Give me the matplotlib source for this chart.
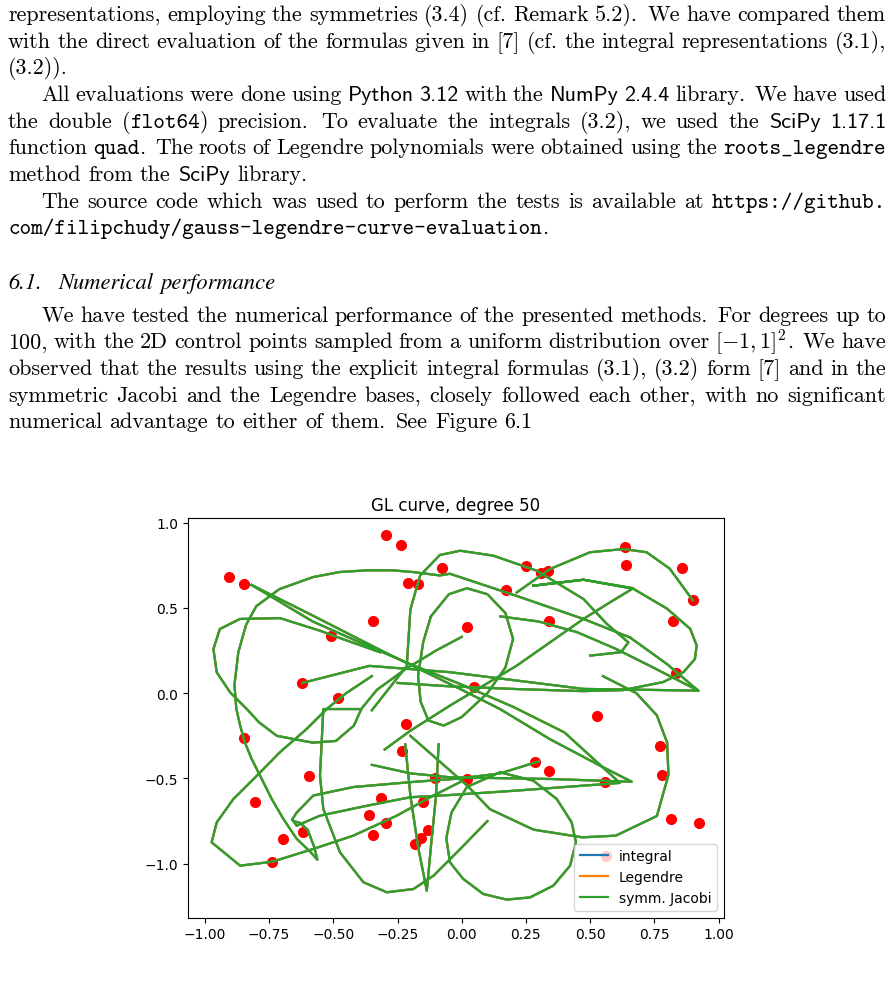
import numpy as np
import matplotlib
matplotlib.use("Agg")
import matplotlib.pyplot as plt
from matplotlib.transforms import IdentityTransform

# ------------------------------------------------------------------ data
chart_title = "GL curve, degree 50"
series_labels = ["integral", "Legendre", "symm. Jacobi"]
series_colors = ["#1f77b4", "#ff7f0e", "#2ca02c"]
xtick_values = [-1.00, -0.75, -0.50, -0.25, 0.00, 0.25, 0.50, 0.75, 1.00]
ytick_values = [-1.0, -0.5, 0.0, 0.5, 1.0]

control_x = [-0.906, -0.847, -0.295, -0.238, -0.077, -0.208, -0.170, -0.347, -0.510,
             -0.621, -0.481, 0.635, 0.640, 0.858, 0.900, 0.824, 0.252, 0.309, 0.336,
             0.171, 0.341, 0.022, 0.834, 0.048, 0.528, -0.848, -0.217, -0.234, -0.595,
             -0.103, -0.805, -0.314, -0.152, -0.360, -0.296, -0.347, -0.132, -0.160,
             -0.181, -0.696, -0.617, -0.738, 0.772, 0.285, 0.339, 0.781, 0.022, 0.558,
             0.814, 0.925, 0.562]
control_y = [0.683, 0.638, 0.926, 0.869, 0.734, 0.644, 0.638, 0.423, 0.335, 0.060,
             -0.026, 0.857, 0.753, 0.734, 0.544, 0.423, 0.747, 0.703, 0.718, 0.605,
             0.421, 0.390, 0.118, 0.035, -0.132, -0.263, -0.179, -0.339, -0.485,
             -0.499, -0.636, -0.613, -0.640, -0.714, -0.759, -0.829, -0.800, -0.849,
             -0.884, -0.853, -0.816, -0.988, -0.308, -0.401, -0.458, -0.480, -0.503,
             -0.522, -0.737, -0.761, -0.956]

# traced strokes of the curve (None separates strokes)
curve_x = [
    0.655, 0.474, 0.214, -0.046, -0.085, -0.19, -0.27, -0.37, -0.476, -0.58, -0.71,
    -0.80, -0.84, -0.87, -0.885, -0.878, -0.863, -0.844, -0.818, -0.785, -0.74,
    -0.695, -0.643, -0.59, -0.562, -0.575, -0.60, -0.63, -0.655, -0.66, None,
    0.655, 0.80, 0.921, None,
    -0.318, -0.45, -0.552, -0.708, -0.864, -0.942, -0.967, -0.954, -0.902, -0.837,
    -0.79, -0.72, -0.58, -0.49, -0.42, -0.39, -0.33, -0.22, -0.10, 0.0, None,
    0.149, 0.279, 0.37, 0.428, 0.445, 0.422, 0.357, 0.266, 0.175, 0.084, 0.006,
    -0.046, -0.06, -0.04, 0.02, 0.149, None,
    -0.818, -0.60, -0.30, 0.0, 0.149, 0.344, 0.539, 0.662, 0.344, -0.046, -0.20,
    -0.35, None,
    -0.818, -0.58, -0.40, -0.2, 0.0, 0.2, 0.40, 0.616, 0.474, 0.214, -0.046,
    -0.20, -0.37, -0.552, -0.643, -0.66, -0.643, -0.578, -0.422, -0.188, -0.007,
    0.15, 0.30, None,
    -0.20, 0.02, 0.11, 0.28, 0.47, 0.60, 0.76, 0.805, 0.80, 0.76, 0.68, 0.55, None,
    0.214, 0.344, 0.50, 0.63, 0.72, 0.81, 0.9, None,
    -0.621, -0.36, -0.046, 0.474, 0.921, 0.733, 0.60, 0.45, 0.30, 0.15, None,
    0.279, 0.474, 0.668, 0.80, 0.89, 0.915, 0.908, 0.863, 0.784, 0.628, 0.472,
    0.216, -0.046, -0.25, None,
    0.279, 0.474, 0.668, 0.578, 0.474, 0.344, 0.214, 0.084, -0.046,
    -0.20, -0.30, None,
    -0.35, -0.214, -0.20, -0.162, -0.085, -0.006, 0.123, 0.292, 0.474, 0.565,
    0.649, 0.62, 0.50, None,
    -0.12, -0.05, 0.02, 0.10, 0.17, 0.20, 0.17, 0.10, 0.0, -0.07, -0.13, -0.16,
    -0.17, -0.15, -0.12, None,
    -0.40, -0.539, -0.552, -0.539, -0.474, -0.383, -0.292, -0.188, -0.11, -0.007,
    0.10, None,
    -0.22, -0.20, -0.17, -0.136, -0.12, -0.10, -0.09, None,
    -0.007, -0.11, -0.253, -0.422, -0.578, -0.738, -0.863, -0.974, -0.954, -0.889,
    -0.798, -0.708, -0.604, -0.526, -0.45, -0.35,
]
curve_y = [
    0.327, 0.435, 0.57, 0.70, 0.69, 0.71, 0.72, 0.72, 0.71, 0.68, 0.61,
    0.51, 0.40, 0.24, 0.05, -0.09, -0.19, -0.29, -0.386, -0.484, -0.62,
    -0.736, -0.853, -0.93, -0.976, -0.90, -0.80, -0.76, -0.75, -0.74, None,
    0.327, 0.17, 0.015, None,
    0.24, 0.31, 0.366, 0.44, 0.435, 0.376, 0.259, 0.122, 0.005, -0.093,
    -0.17, -0.25, -0.29, -0.28, -0.19, -0.09, 0.02, 0.14, 0.25, 0.33, None,
    -0.464, -0.513, -0.62, -0.757, -0.874, -1.011, -1.128, -1.197, -1.21, -1.177,
    -1.089, -0.991, -0.85, -0.70, -0.55, -0.464, None,
    0.634, 0.47, 0.24, 0.02, -0.093, -0.27, -0.425, -0.519, -0.503, -0.493, -0.47,
    -0.42, None,
    0.634, 0.42, 0.30, 0.17, 0.05, -0.08, -0.23, -0.526, -0.542, -0.571, -0.597,
    -0.61, -0.66, -0.718, -0.777, -0.74, -0.70, -0.60, -0.55, -0.52, -0.50,
    -0.47, -0.40, None,
    -0.25, -0.54, -0.68, -0.80, -0.845, -0.835, -0.72, -0.48, -0.29, -0.13, 0.0, 0.10, None,
    0.59, 0.728, 0.826, 0.845, 0.826, 0.73, 0.544, None,
    0.06, 0.16, 0.123, 0.025, 0.015, 0.16, 0.26, 0.357, 0.42, 0.45, None,
    0.63, 0.665, 0.612, 0.495, 0.377, 0.279, 0.20, 0.122, 0.065, 0.018, 0.012,
    0.024, 0.04, 0.06, None,
    0.63, 0.665, 0.615, 0.533, 0.435, 0.298, 0.161, 0.044, -0.073,
    -0.22, -0.33, None,
    -0.10, 0.16, 0.49, 0.69, 0.81, 0.835, 0.806, 0.718, 0.552, 0.406,
    0.298, 0.24, 0.22, None,
    0.45, 0.58, 0.615, 0.58, 0.47, 0.318, 0.15, 0.0, -0.14, -0.19, -0.16, -0.05,
    0.10, 0.30, 0.45, None,
    -0.093, -0.093, -0.484, -0.678, -0.933, -1.108, -1.167, -1.148, -1.07, -0.915,
    -0.75, None,
    -0.30, -0.60, -0.90, -1.158, -0.90, -0.60, -0.30, None,
    -0.522, -0.60, -0.718, -0.835, -0.913, -0.988, -1.011, -0.874, -0.757, -0.62,
    -0.484, -0.346, -0.21, -0.093, 0.0, 0.10,
]

# page text (words separated by spaces; '|' splits style pieces;
# s: sans, t: mono, i: italic)
para_lines = [
    ("representations, employing the symmetries (3.4) (cf. Remark 5.2). We have compared them", 0, True),
    ("with the direct evaluation of the formulas given in [7] (cf. the integral representations (3.1),", 0, True),
    ("(3.2)).", 0, False),
    ("All evaluations were done using s:Python s:3.12 with the s:NumPy s:2.4.4 library. We have used", 1, True),
    ("the double (|t:flot64|) precision. To evaluate the integrals (3.2), we used the s:SciPy s:1.17.1", 0, True),
    ("function t:quad|. The roots of Legendre polynomials were obtained using the t:roots_legendre", 0, True),
    ("method from the s:SciPy library.", 0, False),
    ("The source code which was used to perform the tests is available at t:https://github.", 1, True),
    ("t:com/filipchudy/gauss-legendre-curve-evaluation|.", 0, False),
    ("i:6.1. i:Numerical i:performance", 0, False),
    ("We have tested the numerical performance of the presented methods. For degrees up to", 1, True),
    ("100, with the 2D control points sampled from a uniform distribution over $[-1,1]^2$|. We have", 0, True),
    ("observed that the results using the explicit integral formulas (3.1), (3.2) form [7] and in the", 0, True),
    ("symmetric Jacobi and the Legendre bases, closely followed each other, with no significant", 0, True),
    ("numerical advantage to either of them. See Figure 6.1", 0, False),
]
line_baselines = [21.0, 47.7, 74.4, 101.0, 127.7, 154.4, 181.0, 207.7, 234.4,
                  289.3, 321.6, 348.3, 375.0, 401.7, 428.3]

# ------------------------------------------------------------------ figure
W, H = 894, 1004
plt.rcParams["mathtext.fontset"] = "cm"
fig = plt.figure(figsize=(W / 100, H / 100), dpi=100)
renderer = fig.canvas.get_renderer()

FS = 15.9
EM = FS * 100 / 72
FONTS = {"r": dict(family="cmr10"), "s": dict(family="cmss10"),
         "t": dict(family="cmtt10"), "i": dict(family="STIXGeneral", style="italic")}
X_LEFT, X_RIGHT, INDENT = 8.0, 886.0, 33.5


def make_word(word):
    pieces = []
    for p in word.split("|"):
        st = "r"
        if len(p) > 2 and p[1] == ":" and p[0] in "sti":
            st, p = p[0], p[2:]
        fs = FS * (1.02 if st == "i" else 1.0)
        t = fig.text(0, 0, p, fontsize=fs, va="baseline", ha="left",
                     transform=IdentityTransform(), **FONTS[st])
        w = t.get_window_extent(renderer=renderer).width
        pieces.append((t, w))
    return pieces


for (line, indent, justify), yb in zip(para_lines, line_baselines):
    raw = line.split(" ")
    words = [make_word(w) for w in raw]
    widths = [sum(w for _, w in pcs) for pcs in words]
    x0 = X_LEFT + (INDENT if indent else 0.0)
    nat_gap = 0.333 * EM
    if justify and len(words) > 1:
        extra = [0.15 * EM if raw[k].endswith(".") and not raw[k].endswith("cf.")
                 else 0.0 for k in range(len(words) - 1)]
        free = X_RIGHT - x0 - sum(widths) - sum(extra)
        gaps = [free / (len(words) - 1) + e for e in extra]
    else:
        gaps = [nat_gap + (0.12 * EM if raw[k].endswith(".") and not raw[k].startswith("i:")
                           else 0.0) for k in range(len(words) - 1)]
        if raw[0] == "i:6.1.":
            gaps[0] = 0.75 * EM
    x = x0
    ybase = H - yb
    for k, pcs in enumerate(words):
        for t, w in pcs:
            t.set_position((x, ybase))
            x += w
        if k < len(gaps):
            x += gaps[k]

# ------------------------------------------------------------------ chart
ax = fig.add_axes([188 / W, (H - 918.7) / H, 536 / W, 399.4 / H])
ax.plot(control_x, control_y, "o", color="red", markersize=7, linestyle="none")
cx = np.array([np.nan if v is None else v for v in curve_x], dtype=float)
cy = np.array([np.nan if v is None else v for v in curve_y], dtype=float)
for lab, col in zip(series_labels, series_colors):
    ax.plot(cx, cy, color=col, lw=1.6, label=lab)
ax.set_xlim(-1.066, 1.0214)
ax.set_ylim(-1.316, 1.025)
ax.set_xticks(xtick_values)
ax.set_yticks(ytick_values)
ax.set_title(chart_title, fontsize=12)
ax.legend(loc="lower right", fontsize=10)

fig.savefig("out.png", dpi=100)
